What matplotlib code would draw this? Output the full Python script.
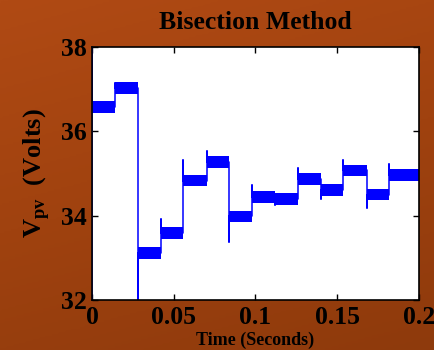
import numpy as np
import matplotlib.pyplot as plt
from matplotlib.colors import LinearSegmentedColormap

plt.rcParams['font.family'] = 'Liberation Serif'
plt.rcParams['font.weight'] = 'bold'
plt.rcParams['mathtext.fontset'] = 'custom'
plt.rcParams['mathtext.rm'] = 'Liberation Serif:bold'
plt.rcParams['mathtext.bf'] = 'Liberation Serif:bold'

# step boundaries (s), step levels (V) and the transient peak at each step start
t_edges = [0, 0.0141, 0.0280, 0.0422, 0.0557, 0.0702, 0.0840, 0.0980,
           0.1119, 0.1262, 0.1399, 0.1537, 0.1680, 0.1818, 0.2]
levels = [36.57, 37.02, 33.11, 33.58, 34.83, 35.28, 33.98, 34.45,
          34.39, 34.86, 34.60, 35.07, 34.50, 34.96]
peaks = [40.0, 37.15, 31.0, 33.92, 35.32, 35.52, 33.38, 34.73,
         34.25, 35.14, 34.39, 35.32, 34.19, 35.22]
ripple = 0.14

fig = plt.figure(figsize=(4.34, 3.5), dpi=100)

# brownish-orange backdrop
bg = fig.add_axes([0, 0, 1, 1], zorder=-10)
cmap = LinearSegmentedColormap.from_list('bg', ['#b04a14', '#a0420f', '#8e3a0c'])
yy, xx = np.mgrid[0:1:200j, 0:1:200j]
bg.imshow(0.75 * yy + 0.25 * xx, cmap=cmap, aspect='auto', extent=[0, 1, 0, 1])
bg.axis('off')

ax = fig.add_axes([0.212, 0.143, 0.753, 0.723])
ax.set_facecolor('white')

# ripple band for each step
for i, v in enumerate(levels):
    ax.fill_between([t_edges[i], t_edges[i + 1]], v - ripple, v + ripple,
                    color='#0000ff', linewidth=0)

# transitions with transient peaks
tx, vy = [], []
for i, v in enumerate(levels):
    prev = levels[i - 1] if i > 0 else 32.0
    tx += [t_edges[i], t_edges[i], t_edges[i]]
    vy += [prev, peaks[i], v]
    tx.append(t_edges[i + 1])
    vy.append(v)
ax.plot(tx, vy, color='#0000ff', linewidth=1.1)

ax.set_xlim(0, 0.2)
ax.set_ylim(32, 38)
ax.set_xticks([0, 0.05, 0.1, 0.15, 0.2])
ax.set_xticklabels(['0', '0.05', '0.1', '0.15', '0.2'])
ax.set_yticks([32, 34, 36, 38])
ax.tick_params(direction='in', top=True, right=True, length=4, width=1,
               labelsize=18.5, pad=4)
for lab in ax.get_xticklabels() + ax.get_yticklabels():
    lab.set_fontweight('bold')
for s in ax.spines.values():
    s.set_linewidth(1.2)

ax.set_title('Bisection Method', fontsize=18.5, fontweight='bold', pad=13)
ax.set_xlabel('Time (Seconds)', fontsize=13, fontweight='bold', labelpad=2)
ax.set_ylabel(r'$\mathbf{V}_{\mathbf{pv}}$  (Volts)', fontsize=19,
              fontweight='bold', labelpad=6)

fig.savefig('out.png', dpi=100)
